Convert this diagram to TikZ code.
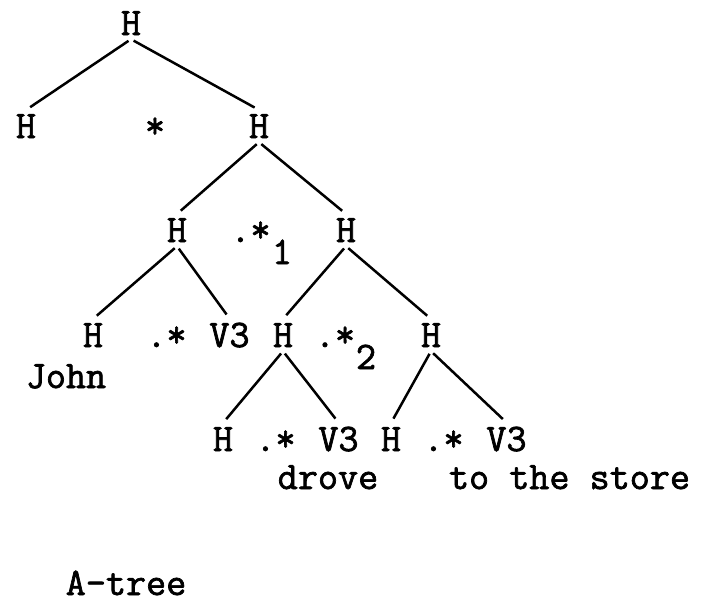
\documentclass[tikz,border=0pt]{standalone}
\usepackage{fontspec}
\newfontfamily\twfont[FakeBold=1.8]{Latin Modern Mono}
\begin{document}
\begin{tikzpicture}[x=1pt,y=-1pt,
  tw/.style={anchor=base,inner xsep=0pt,inner ysep=4pt,font=\twfont\fontsize{39}{44}\selectfont},
  edge/.style={line width=2.5pt,shorten <=3pt,shorten >=5pt}]
\useasboundingbox[fill=white] (0,0) rectangle (712,605);
% row 0
\node[tw] (r) at (131,35) {H};
% row 1
\node[tw] (a) at (26,138) {H};
\node[tw] (s0) at (155,138) {*};
\node[tw] (b) at (259,138) {H};
% row 2
\node[tw] (c) at (177,242) {H};
\node[tw] (s1) at (250.5,242) {.*};
\node[tw] (n1) at (282,264) {1};
\node[tw] (d) at (346,242) {H};
% row 3
\node[tw] (e) at (93,347) {H};
\node[tw] (s2) at (166.5,347) {.*};
\node[tw] (v1) at (229.5,347) {V3};
\node[tw] (f) at (283,347) {H};
\node[tw] (s3) at (335,347) {.*};
\node[tw] (n2) at (366,369) {2};
\node[tw] (g) at (431,347) {H};
\node[tw] (john) at (66,388) {John};
% row 4
\node[tw] (h) at (223,451) {H};
\node[tw] (s4) at (275.5,451) {.*};
\node[tw] (v2) at (338.5,451) {V3};
\node[tw] (j) at (391,451) {H};
\node[tw] (s5) at (443.5,451) {.*};
\node[tw] (v3) at (506.5,451) {V3};
% row 5
\node[tw] (drove) at (328,489) {drove};
\node[tw] (store) at (569.5,489) {to the store};
% caption
\node[tw] (cap) at (126,595) {A-tree};
% edges
\draw[edge] (r.south) -- (a.north);
\draw[edge] (r.south) -- (b.north);
\draw[edge] (b.south) -- (c.north);
\draw[edge] (b.south) -- (d.north);
\draw[edge] (c.south) -- (e.north);
\draw[edge] (c.south) -- (v1.north);
\draw[edge] (d.south) -- (f.north);
\draw[edge] (d.south) -- (g.north);
\draw[edge] (f.south) -- (h.north);
\draw[edge] (f.south) -- (v2.north);
\draw[edge] (g.south) -- (j.north);
\draw[edge] (g.south) -- (v3.north);
\end{tikzpicture}
\end{document}
